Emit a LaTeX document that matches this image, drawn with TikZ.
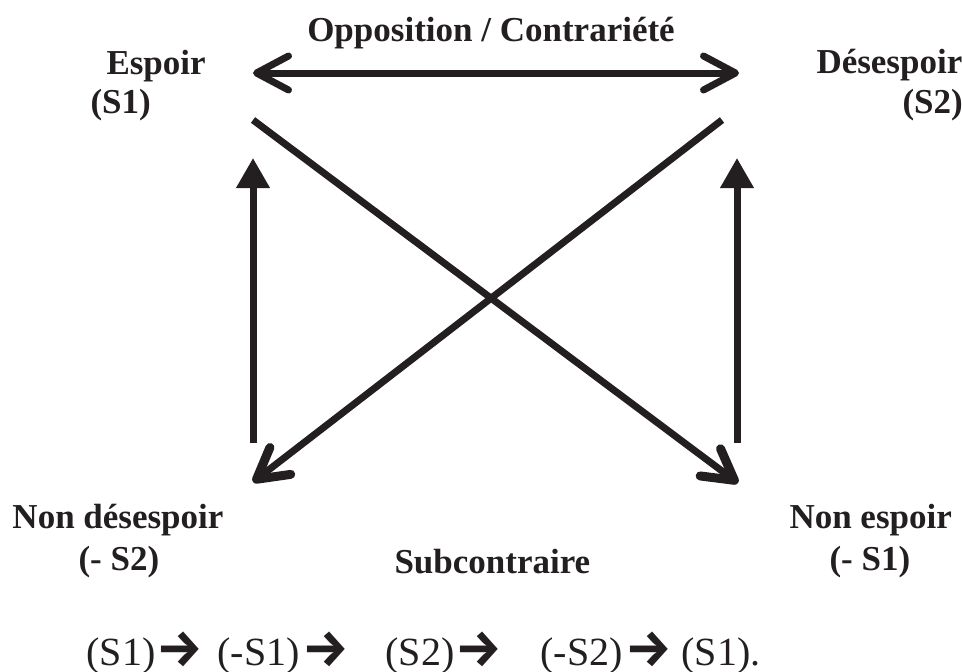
\documentclass[tikz,border=0pt]{standalone}
\usepackage{fontspec}
\setmainfont{Liberation Serif}
\newfontfamily\arrowfont{Fira Sans}
\usepackage{tikz}
\usetikzlibrary{arrows.meta}
\definecolor{inkblack}{HTML}{231F20}

\begin{document}
\begin{tikzpicture}[x=1pt, y=-1pt, line width=7pt, color=inkblack,
    term/.style={font=\fontsize{35}{38}\selectfont\bfseries, inner sep=0pt, anchor=base west},
    chainterm/.style={font=\fontsize{40}{44}\selectfont, inner sep=0pt, anchor=base west},
    chainarrow/.style={font=\arrowfont\bfseries\fontsize{52}{58}\selectfont, inner sep=0pt, anchor=west},
    opposed/.style={{Straight Barb[length=32pt, width=34pt, round]}-{Straight Barb[length=32pt, width=34pt, round]}},
    implies/.style={-{Triangle[length=30pt, width=32pt]}},
    contradicts/.style={-{Straight Barb[length=30pt, width=34pt, line width=9pt, round]}}]
    \useasboundingbox (0,0) rectangle (962,672);

    % Corner points of the square
    \coordinate (s1top) at (253,73);
    \coordinate (s2top) at (739,73);
    \coordinate (s1tip) at (253,158);
    \coordinate (s2tip) at (737,158);
    \coordinate (ns2foot) at (253,443);
    \coordinate (ns1foot) at (737,443);
    \coordinate (s1diag) at (253,120);
    \coordinate (s2diag) at (722,120);
    \coordinate (ns2tip) at (253,482);
    \coordinate (ns1tip) at (738,483);

    % Terms
    \node[term, anchor=base] (opp) at (491,41) {Opposition / Contrariété};
    \node[term] (espoir) at (103,74) {Espoir};
    \node[term] (s1) at (87,113) {(S1)};
    \node[term] (desespoir) at (813,73) {Désespoir};
    \node[term] (s2) at (899,113) {(S2)};
    \node[term] (nondesespoir) at (9,528) {Non désespoir};
    \node[term] (ns2) at (75,570) {(- S2)};
    \node[term] (subc) at (391,573) {Subcontraire};
    \node[term] (nonespoir) at (786,528) {Non espoir};
    \node[term] (ns1) at (826,570) {(- S1)};

    % Relations
    \draw[opposed] (s1top) -- (s2top);
    \draw[implies] (ns2foot) -- (s1tip);
    \draw[implies] (ns1foot) -- (s2tip);
    \draw[contradicts] (s1diag) -- (ns1tip);
    \draw[contradicts] (s2diag) -- (ns2tip);

    % Chain
    \node[chainterm] (c1) at (83,665) {(S1)};
    \node[chainarrow] (a1) at (153,649) {→};
    \node[chainterm] (c2) at (214,665) {(-S1)};
    \node[chainarrow] (a2) at (299,649) {→};
    \node[chainterm] (c3) at (382,665) {(S2)};
    \node[chainarrow] (a3) at (452,649) {→};
    \node[chainterm] (c4) at (537,665) {(-S2)};
    \node[chainarrow] (a4) at (622,649) {→};
    \node[chainterm] (c5) at (678,665) {(S1).};
\end{tikzpicture}
\end{document}
